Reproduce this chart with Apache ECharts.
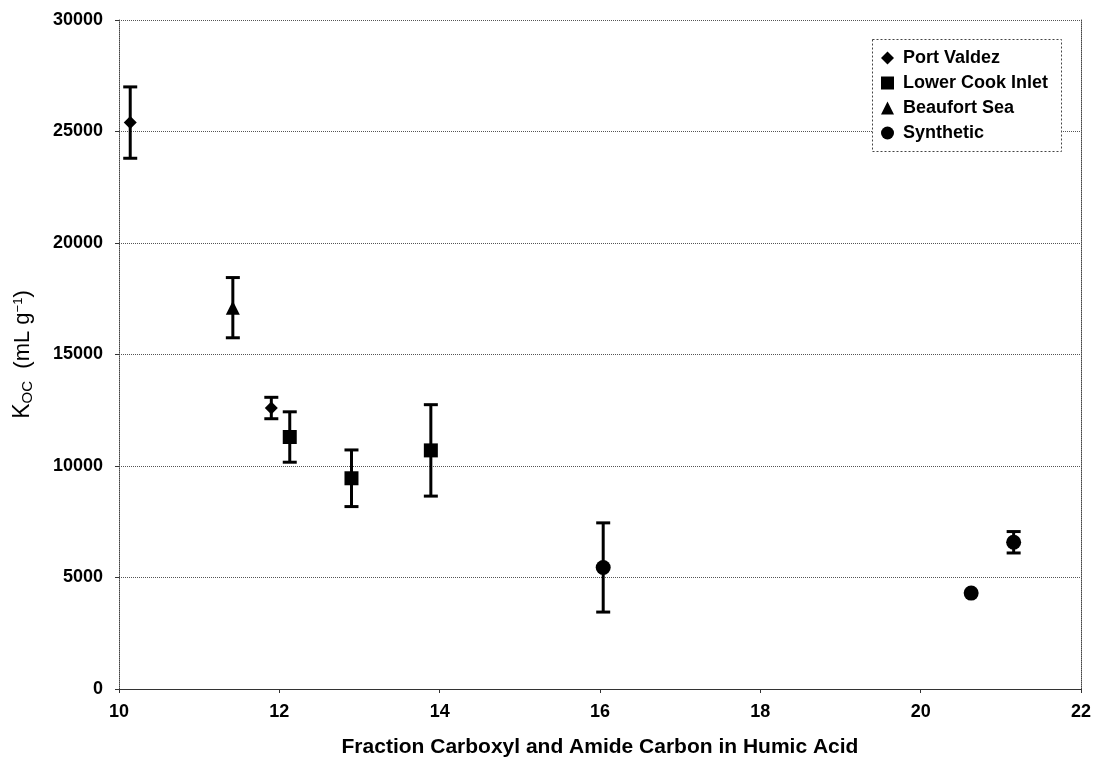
<!DOCTYPE html>
<html>
<head>
<meta charset="utf-8">
<title>Koc vs fraction carboxyl and amide carbon</title>
<script src="https://cdn.jsdelivr.net/npm/echarts@6/dist/echarts.min.js"></script>
<style>
  html, body { margin: 0; padding: 0; background: #fff; }
  #chart { width: 1094px; height: 763px; }
</style>
</head>
<body>
<div id="chart"></div>
<script>
// values
const xTicks = [10, 12, 14, 16, 18, 20, 22]
const yTicks = [0, 5000, 10000, 15000, 20000, 25000, 30000]

const portValdezX = [10.14, 11.9]
const portValdezY = [25400, 12600]
const portValdezErr = [1600, 480]

const cookInletX = [12.13, 12.9, 13.89]
const cookInletY = [11300, 9450, 10700]
const cookInletErr = [1130, 1270, 2050]

const beaufortX = [11.42]
const beaufortY = [17100]
const beaufortErr = [1350]

const syntheticX = [16.04, 20.63, 21.16]
const syntheticY = [5450, 4300, 6580]
const syntheticErr = [2000, 0, 480]

const seriesNames = ['Port Valdez', 'Lower Cook Inlet', 'Beaufort Sea', 'Synthetic']

const FONT = '"Liberation Sans", Arial, Helvetica, sans-serif'

function points(xs, ys) {
  return xs.map((x, i) => [x, ys[i]])
}

function errRows(xs, ys, errs) {
  return xs.map((x, i) => [x, ys[i] - errs[i], ys[i] + errs[i], errs[i]])
}

const errData = [].concat(
  errRows(portValdezX, portValdezY, portValdezErr),
  errRows(cookInletX, cookInletY, cookInletErr),
  errRows(beaufortX, beaufortY, beaufortErr),
  errRows(syntheticX, syntheticY, syntheticErr)
)

function renderErr(params, api) {
  if (api.value(3) <= 0) return null
  const top = api.coord([api.value(0), api.value(2)])
  const bot = api.coord([api.value(0), api.value(1)])
  const w = 7
  const st = { stroke: '#000', lineWidth: 3 }
  return {
    type: 'group',
    children: [
      { type: 'line', shape: { x1: top[0], y1: top[1], x2: bot[0], y2: bot[1] }, style: st },
      { type: 'line', shape: { x1: top[0] - w, y1: top[1], x2: top[0] + w, y2: top[1] }, style: st },
      { type: 'line', shape: { x1: bot[0] - w, y1: bot[1], x2: bot[0] + w, y2: bot[1] }, style: st }
    ]
  }
}

const markStyle = { color: '#000', opacity: 1 }

const chart = echarts.init(document.getElementById('chart'))

chart.setOption({
  animation: false,
  backgroundColor: '#fff',
  textStyle: { fontFamily: FONT },
  grid: {
    left: 119,
    right: 9,
    top: 20,
    bottom: 71
  },
  graphic: [{
    type: 'rect',
    left: 872,
    top: 39,
    z: 3,
    shape: { width: 189, height: 112 },
    style: { fill: '#fff', stroke: '#444', lineWidth: 1, lineDash: [2, 2] }
  }],
  legend: {
    data: seriesNames,
    orient: 'vertical',
    left: 881,
    top: 49,
    z: 5,
    itemWidth: 13,
    itemHeight: 13,
    itemGap: 7,
    padding: 0,
    itemStyle: { color: '#000', opacity: 1 },
    textStyle: { fontFamily: FONT, fontSize: 18, fontWeight: 'bold', color: '#000', padding: [0, 0, 0, 4] }
  },
  xAxis: {
    type: 'value',
    min: 10,
    max: 22,
    interval: 2,
    name: 'Fraction Carboxyl and Amide Carbon in Humic Acid',
    nameLocation: 'middle',
    nameGap: 48,
    nameTextStyle: { fontFamily: FONT, fontSize: 21, fontWeight: 'bold', color: '#000' },
    axisLine: { lineStyle: { color: '#333', width: 1 } },
    axisTick: { show: true, length: 4, inside: false, lineStyle: { color: '#333' } },
    axisLabel: {
      margin: 14,
      fontFamily: FONT,
      fontSize: 18,
      fontWeight: 'bold',
      color: '#000',
      customValues: xTicks,
      formatter: v => String(v)
    },
    splitLine: { show: false }
  },
  yAxis: [{
    type: 'value',
    min: 0,
    max: 30000,
    interval: 5000,
    name: '{k|K}{s|OC}{n|  (mL g}{p|−1}{n|)}',
    nameLocation: 'middle',
    nameGap: 84,
    nameTextStyle: {
      rich: {
        k: { fontFamily: FONT, fontSize: 23, color: '#000' },
        s: { fontFamily: FONT, fontSize: 15, color: '#000', padding: [10, 0, 0, 0] },
        n: { fontFamily: FONT, fontSize: 22, color: '#000' },
        p: { fontFamily: FONT, fontSize: 13, color: '#000', padding: [0, 0, 9, 0] }
      }
    },
    axisLine: { show: true, lineStyle: { color: '#444', type: 'dotted', width: 1 } },
    axisTick: { show: true, length: 4, lineStyle: { color: '#333' } },
    axisLabel: {
      margin: 16,
      fontFamily: FONT,
      fontSize: 18,
      fontWeight: 'bold',
      color: '#000',
      customValues: yTicks,
      formatter: v => String(v)
    },
    splitLine: { show: true, lineStyle: { color: '#555', type: 'dotted', width: 1 } }
  }, {
    type: 'value',
    position: 'right',
    min: 0,
    max: 30000,
    interval: 5000,
    axisLine: { show: true, lineStyle: { color: '#444', type: 'dotted', width: 1 } },
    axisTick: { show: false },
    axisLabel: { show: false },
    splitLine: { show: false }
  }],
  series: [{
    name: 'errorbars',
    type: 'custom',
    renderItem: renderErr,
    encode: { x: 0, y: [1, 2] },
    data: errData,
    z: 2,
    silent: true
  }, {
    name: 'Port Valdez',
    type: 'scatter',
    symbol: 'diamond',
    symbolSize: 13,
    itemStyle: markStyle,
    data: points(portValdezX, portValdezY),
    z: 3
  }, {
    name: 'Lower Cook Inlet',
    type: 'scatter',
    symbol: 'rect',
    symbolSize: 14,
    itemStyle: markStyle,
    data: points(cookInletX, cookInletY),
    z: 3
  }, {
    name: 'Beaufort Sea',
    type: 'scatter',
    symbol: 'triangle',
    symbolSize: 14,
    itemStyle: markStyle,
    data: points(beaufortX, beaufortY),
    z: 3
  }, {
    name: 'Synthetic',
    type: 'scatter',
    symbol: 'circle',
    symbolSize: 15,
    itemStyle: markStyle,
    data: points(syntheticX, syntheticY),
    z: 3
  }]
})
</script>
</body>
</html>
